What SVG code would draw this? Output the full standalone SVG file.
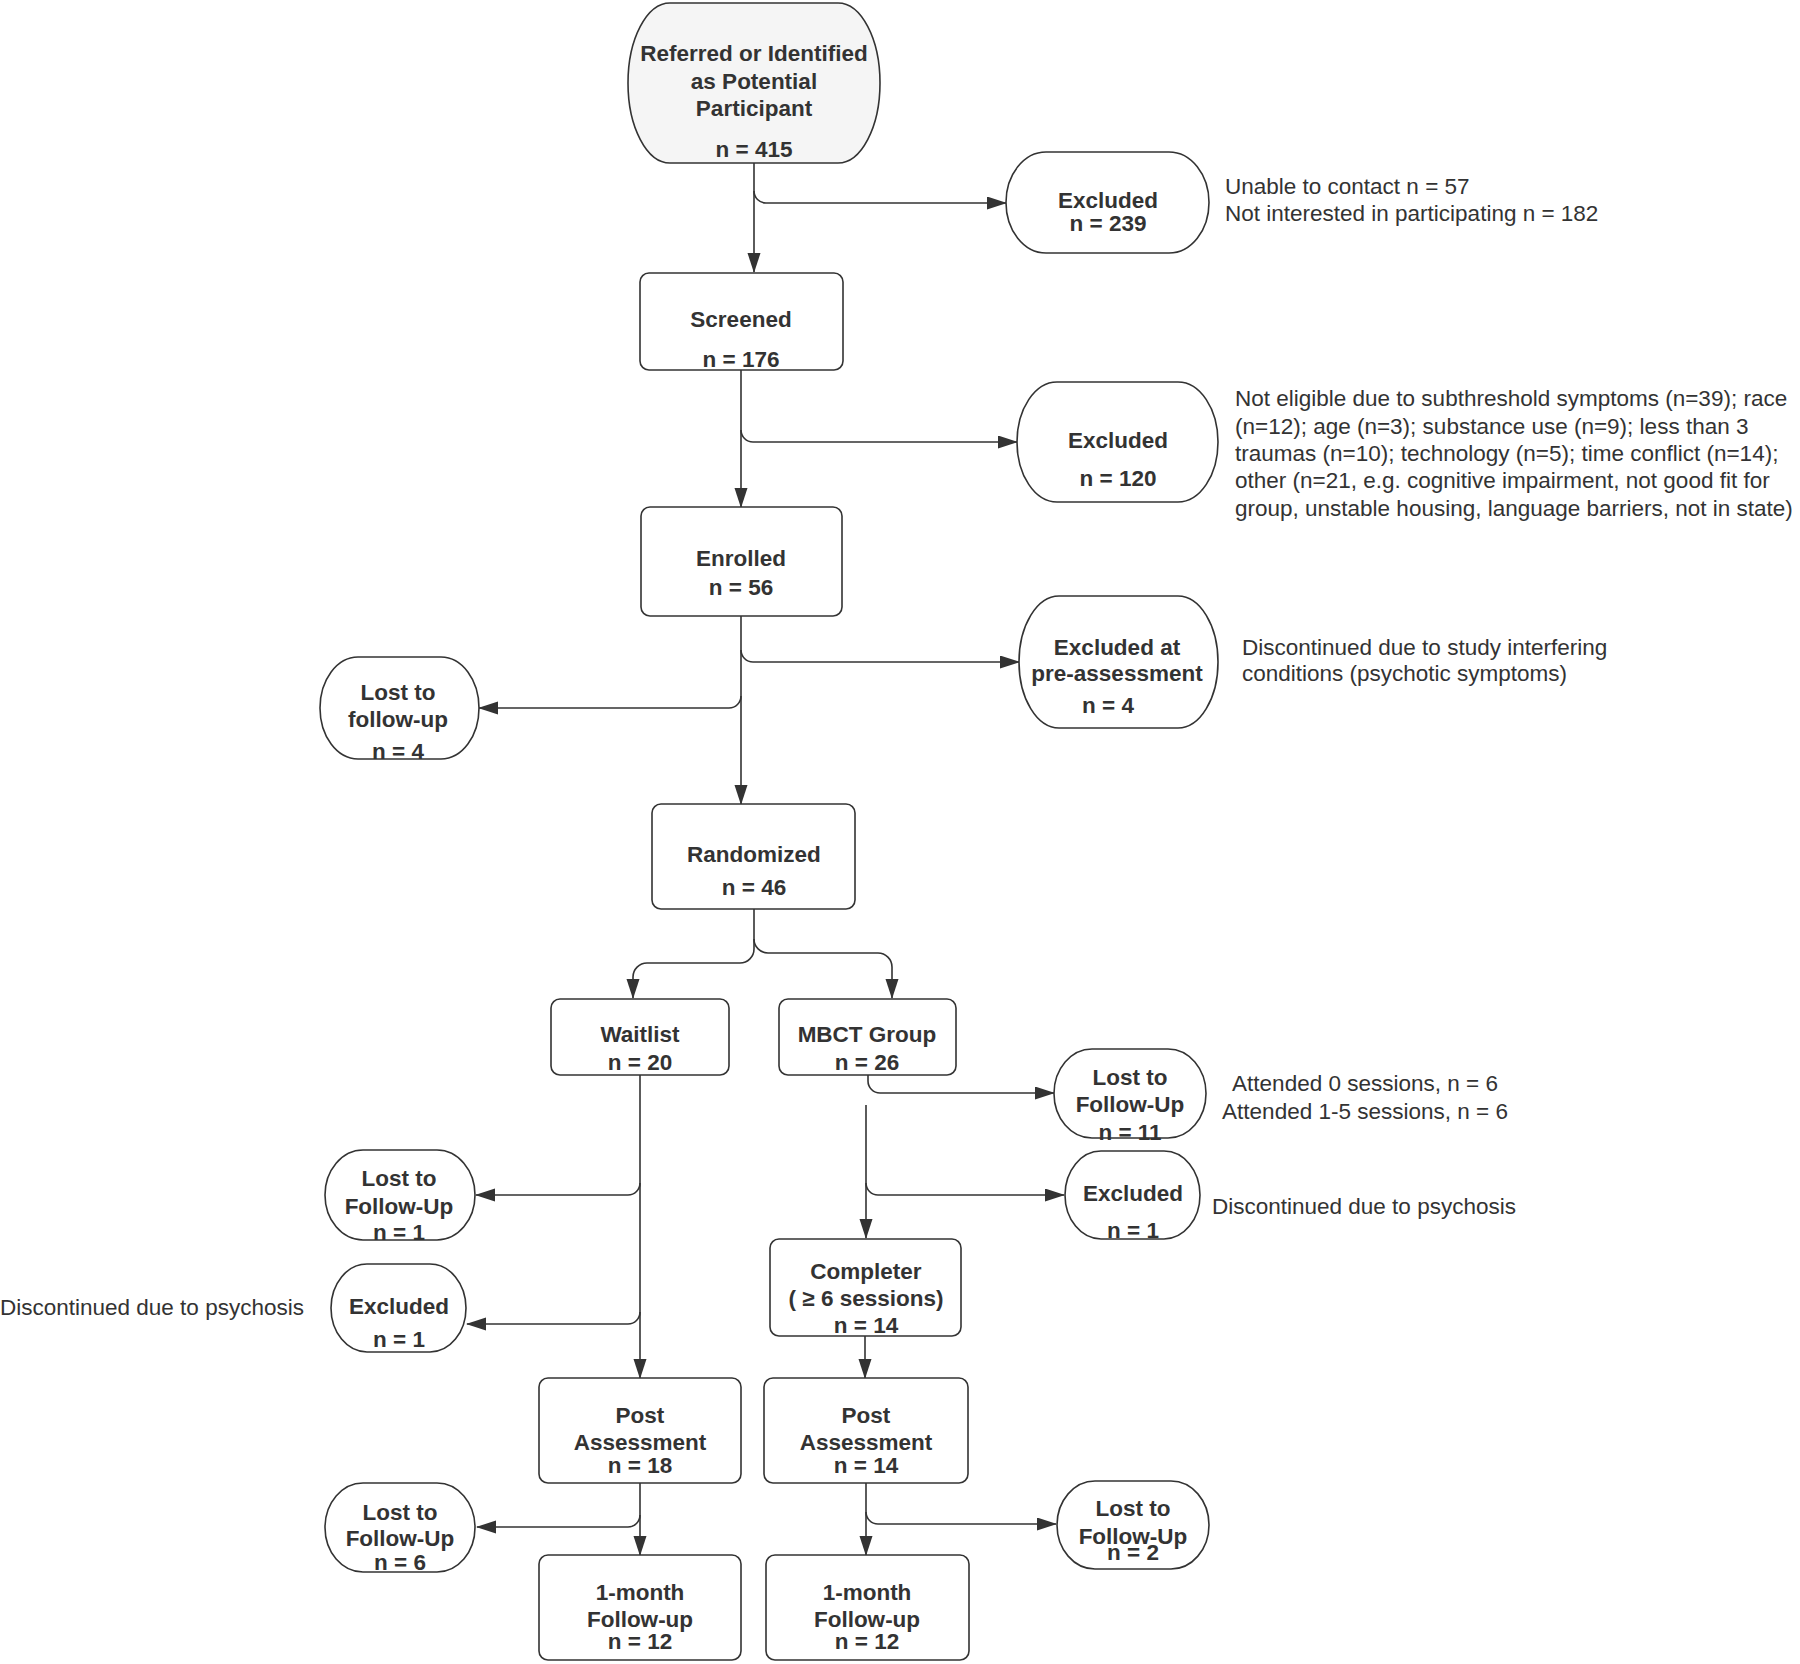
<svg xmlns="http://www.w3.org/2000/svg" width="1800" height="1664" viewBox="0 0 1800 1664">
<defs>
<marker id="ah" markerUnits="userSpaceOnUse" markerWidth="21" markerHeight="14" refX="19" refY="6.5" orient="auto">
<path d="M0,0 L20,6.5 L0,13 z" fill="#333"/>
</marker>
<style>
.box{fill:#fff;stroke:#333;stroke-width:1.6}
.b{font-family:"Liberation Sans",Arial,sans-serif;font-size:22.5px;font-weight:bold;fill:#333;text-anchor:middle}
.r{font-family:"Liberation Sans",Arial,sans-serif;font-size:22.5px;fill:#333}
.c{fill:none;stroke:#333;stroke-width:1.6;marker-end:url(#ah)}
</style>
</defs>
<rect width="1800" height="1664" fill="#fff"/>

<g id="connectors">
<path class="c" d="M754,163 V272"/>
<path class="c" d="M754,191 a12,12 0 0 0 12,12 H1006"/>
<path class="c" d="M741,370 V507"/>
<path class="c" d="M741,430 a12,12 0 0 0 12,12 H1017"/>
<path class="c" d="M741,616 V804"/>
<path class="c" d="M741,650 a12,12 0 0 0 12,12 H1019"/>
<path class="c" d="M741,696 a12,12 0 0 1 -12,12 H479"/>
<path class="c" d="M754,909 V949 a14,14 0 0 1 -14,14 H647 a14,14 0 0 0 -14,14 V998"/>
<path class="c" d="M754,939 a14,14 0 0 0 14,14 H878 a14,14 0 0 1 14,14 V998"/>
<path class="c" d="M640,1075 V1378"/>
<path class="c" d="M640,1183 a12,12 0 0 1 -12,12 H476"/>
<path class="c" d="M640,1312 a12,12 0 0 1 -12,12 H467"/>
<path class="c" d="M868,1075 V1081 a12,12 0 0 0 12,12 H1054"/>
<path class="c" d="M866,1105 V1238"/>
<path class="c" d="M866,1183 a12,12 0 0 0 12,12 H1064"/>
<path class="c" d="M865,1336 V1378"/>
<path class="c" d="M640,1483 V1555"/>
<path class="c" d="M640,1515 a12,12 0 0 1 -12,12 H477"/>
<path class="c" d="M866,1483 V1555"/>
<path class="c" d="M866,1512 a12,12 0 0 0 12,12 H1056"/>
</g>

<g id="referred">
<rect x="628" y="3" width="252" height="160" rx="42" ry="80" fill="#f5f5f5" stroke="#333" stroke-width="1.6"/>
<text class="b" x="754" y="61">Referred or Identified</text>
<text class="b" x="754" y="89">as Potential</text>
<text class="b" x="754" y="116">Participant</text>
<text class="b" x="754" y="157">n = 415</text>
</g>

<g id="excluded1">
<rect class="box" x="1006" y="152" width="203" height="101" rx="40" ry="50.5"/>
<text class="b" x="1108" y="208">Excluded</text>
<text class="b" x="1108" y="231">n = 239</text>
</g>
<g id="note1">
<text class="r" x="1225" y="194">Unable to contact n = 57</text>
<text class="r" x="1225" y="221">Not interested in participating n = 182</text>
</g>

<g id="screened">
<rect class="box" x="640" y="273" width="203" height="97" rx="9"/>
<text class="b" x="741" y="327">Screened</text>
<text class="b" x="741" y="367">n = 176</text>
</g>

<g id="excluded2">
<rect class="box" x="1017" y="382" width="201" height="120" rx="40" ry="60"/>
<text class="b" x="1118" y="448">Excluded</text>
<text class="b" x="1118" y="486">n = 120</text>
</g>
<g id="note2">
<text class="r" x="1235" y="406">Not eligible due to subthreshold symptoms (n=39); race</text>
<text class="r" x="1235" y="434">(n=12); age (n=3); substance use (n=9); less than 3</text>
<text class="r" x="1235" y="461">traumas (n=10); technology (n=5); time conflict (n=14);</text>
<text class="r" x="1235" y="488">other (n=21, e.g. cognitive impairment, not good fit for</text>
<text class="r" x="1235" y="516">group, unstable housing, language barriers, not in state)</text>
</g>

<g id="enrolled">
<rect class="box" x="641" y="507" width="201" height="109" rx="9"/>
<text class="b" x="741" y="566">Enrolled</text>
<text class="b" x="741" y="595">n = 56</text>
</g>

<g id="excluded-pre">
<rect class="box" x="1019" y="596" width="199" height="132" rx="40" ry="66"/>
<text class="b" x="1117" y="655">Excluded at</text>
<text class="b" x="1117" y="681">pre-assessment</text>
<text class="b" x="1108" y="713">n = 4</text>
</g>
<g id="note3">
<text class="r" x="1242" y="655">Discontinued due to study interfering</text>
<text class="r" x="1242" y="681">conditions (psychotic symptoms)</text>
</g>

<g id="lost1">
<rect class="box" x="320" y="657" width="159" height="102" rx="38" ry="51"/>
<text class="b" x="398" y="700">Lost to</text>
<text class="b" x="398" y="727">follow-up</text>
<text class="b" x="398" y="759">n = 4</text>
</g>

<g id="randomized">
<rect class="box" x="652" y="804" width="203" height="105" rx="9"/>
<text class="b" x="754" y="862">Randomized</text>
<text class="b" x="754" y="895">n = 46</text>
</g>

<g id="waitlist">
<rect class="box" x="551" y="999" width="178" height="76" rx="9"/>
<text class="b" x="640" y="1042">Waitlist</text>
<text class="b" x="640" y="1070">n = 20</text>
</g>

<g id="mbct">
<rect class="box" x="779" y="999" width="177" height="76" rx="9"/>
<text class="b" x="867" y="1042">MBCT Group</text>
<text class="b" x="867" y="1070">n = 26</text>
</g>

<g id="lost-mbct">
<rect class="box" x="1054" y="1049" width="152" height="89" rx="38" ry="44.5"/>
<text class="b" x="1130" y="1085">Lost to</text>
<text class="b" x="1130" y="1112">Follow-Up</text>
<text class="b" x="1130" y="1140">n = 11</text>
</g>
<g id="note4">
<text class="r" x="1365" y="1091" text-anchor="middle">Attended 0 sessions, n = 6</text>
<text class="r" x="1365" y="1119" text-anchor="middle">Attended 1-5 sessions, n = 6</text>
</g>

<g id="excluded-mbct">
<rect class="box" x="1065" y="1151" width="135" height="88" rx="36" ry="44"/>
<text class="b" x="1133" y="1201">Excluded</text>
<text class="b" x="1133" y="1238">n = 1</text>
</g>
<g id="note5">
<text class="r" x="1212" y="1214">Discontinued due to psychosis</text>
</g>

<g id="lost-wl">
<rect class="box" x="325" y="1150" width="150" height="90" rx="38" ry="45"/>
<text class="b" x="399" y="1186">Lost to</text>
<text class="b" x="399" y="1214">Follow-Up</text>
<text class="b" x="399" y="1240">n = 1</text>
</g>

<g id="excluded-wl">
<rect class="box" x="331" y="1264" width="135" height="88" rx="36" ry="44"/>
<text class="b" x="399" y="1314">Excluded</text>
<text class="b" x="399" y="1347">n = 1</text>
</g>
<g id="note6">
<text class="r" x="0" y="1315">Discontinued due to psychosis</text>
</g>

<g id="completer">
<rect class="box" x="770" y="1239" width="191" height="97" rx="9"/>
<text class="b" x="866" y="1279">Completer</text>
<text class="b" x="866" y="1306">( ≥ 6 sessions)</text>
<text class="b" x="866" y="1333">n = 14</text>
</g>

<g id="post-wl">
<rect class="box" x="539" y="1378" width="202" height="105" rx="9"/>
<text class="b" x="640" y="1423">Post</text>
<text class="b" x="640" y="1450">Assessment</text>
<text class="b" x="640" y="1473">n = 18</text>
</g>

<g id="post-mbct">
<rect class="box" x="764" y="1378" width="204" height="105" rx="9"/>
<text class="b" x="866" y="1423">Post</text>
<text class="b" x="866" y="1450">Assessment</text>
<text class="b" x="866" y="1473">n = 14</text>
</g>

<g id="lost-6">
<rect class="box" x="325" y="1483" width="150" height="89" rx="38" ry="44.5"/>
<text class="b" x="400" y="1520">Lost to</text>
<text class="b" x="400" y="1546">Follow-Up</text>
<text class="b" x="400" y="1570">n = 6</text>
</g>

<g id="lost-2">
<rect class="box" x="1057" y="1481" width="152" height="88" rx="38" ry="44"/>
<text class="b" x="1133" y="1516">Lost to</text>
<text class="b" x="1133" y="1544">Follow-Up</text>
<text class="b" x="1133" y="1560">n = 2</text>
</g>

<g id="followup-wl">
<rect class="box" x="539" y="1555" width="202" height="105" rx="9"/>
<text class="b" x="640" y="1600">1-month</text>
<text class="b" x="640" y="1627">Follow-up</text>
<text class="b" x="640" y="1649">n = 12</text>
</g>

<g id="followup-mbct">
<rect class="box" x="766" y="1555" width="203" height="105" rx="9"/>
<text class="b" x="867" y="1600">1-month</text>
<text class="b" x="867" y="1627">Follow-up</text>
<text class="b" x="867" y="1649">n = 12</text>
</g>
</svg>
